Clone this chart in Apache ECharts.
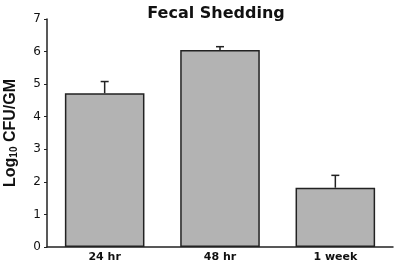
<!DOCTYPE html>
<html><head><meta charset="utf-8">
<script src="https://cdn.jsdelivr.net/npm/echarts@6/dist/echarts.min.js"></script>
<style>html,body{margin:0;padding:0;background:#fff}#c{width:397px;height:265px}</style>
</head><body><div id="c"></div>
<script>
var categories = ['24 hr', '48 hr', '1 week'];
var means = [4.72, 6.05, 1.82];
var errorTops = [5.08, 6.15, 2.20];
var yTicks = [0, 1, 2, 3, 4, 5, 6, 7];

var chart = echarts.init(document.getElementById('c'));
var F = 'Liberation Sans, Arial, sans-serif';
var D = 'DejaVu Sans, sans-serif';
chart.setOption({
  animation: false,
  title: {
    text: 'Fecal Shedding', left: 211, top: 1, textAlign: 'center',
    textStyle: {fontFamily: D, fontSize: 16, fontWeight: 'bold', color: '#111'}
  },
  grid: {left: 47, right: 4, top: 19, bottom: 18, containLabel: false, outerBoundsMode: 'none'},
  xAxis: {
    type: 'category', data: categories,
    axisLine: {lineStyle: {color: '#222', width: 1.5}},
    axisTick: {show: false},
    axisLabel: {fontFamily: D, fontSize: 11, fontWeight: 'bold', color: '#111', margin: 5}
  },
  yAxis: {
    type: 'value', min: yTicks[0], max: yTicks[yTicks.length - 1], interval: 1,
    name: '{a|Log}{s|10}{a| CFU/GM}', nameLocation: 'middle', nameGap: 28,
    nameTextStyle: {
      rich: {
        a: {fontFamily: F, fontSize: 16, fontWeight: 'bold', color: '#111'},
        s: {fontFamily: F, fontSize: 10, fontWeight: 'bold', color: '#111', verticalAlign: 'bottom', padding: [7, 0, 0, 0]}
      }
    },
    axisLine: {show: true, lineStyle: {color: '#222', width: 1.5}},
    axisTick: {show: true, length: 3, lineStyle: {color: '#222'}},
    splitLine: {show: false},
    axisLabel: {fontFamily: D, fontSize: 12, color: '#111', margin: 6}
  },
  series: [{
    type: 'bar', data: means, barWidth: '69%',
    itemStyle: {color: '#b3b3b3', borderColor: '#222', borderWidth: 1.5},
    z: 2
  }, {
    type: 'custom', z: 3,
    data: categories.map(function (c, i) { return [i, means[i], errorTops[i]]; }),
    renderItem: function (params, api) {
      var lo = api.coord([api.value(0), api.value(1)]);
      var hi = api.coord([api.value(0), api.value(2)]);
      var hw = 4;
      return {
        type: 'group',
        children: [
          {type: 'line', shape: {x1: lo[0], y1: lo[1], x2: hi[0], y2: hi[1]}, style: {stroke: '#222', lineWidth: 1.5}},
          {type: 'line', shape: {x1: hi[0] - hw, y1: hi[1], x2: hi[0] + hw, y2: hi[1]}, style: {stroke: '#222', lineWidth: 1.5}}
        ]
      };
    }
  }]
});
</script></body></html>
